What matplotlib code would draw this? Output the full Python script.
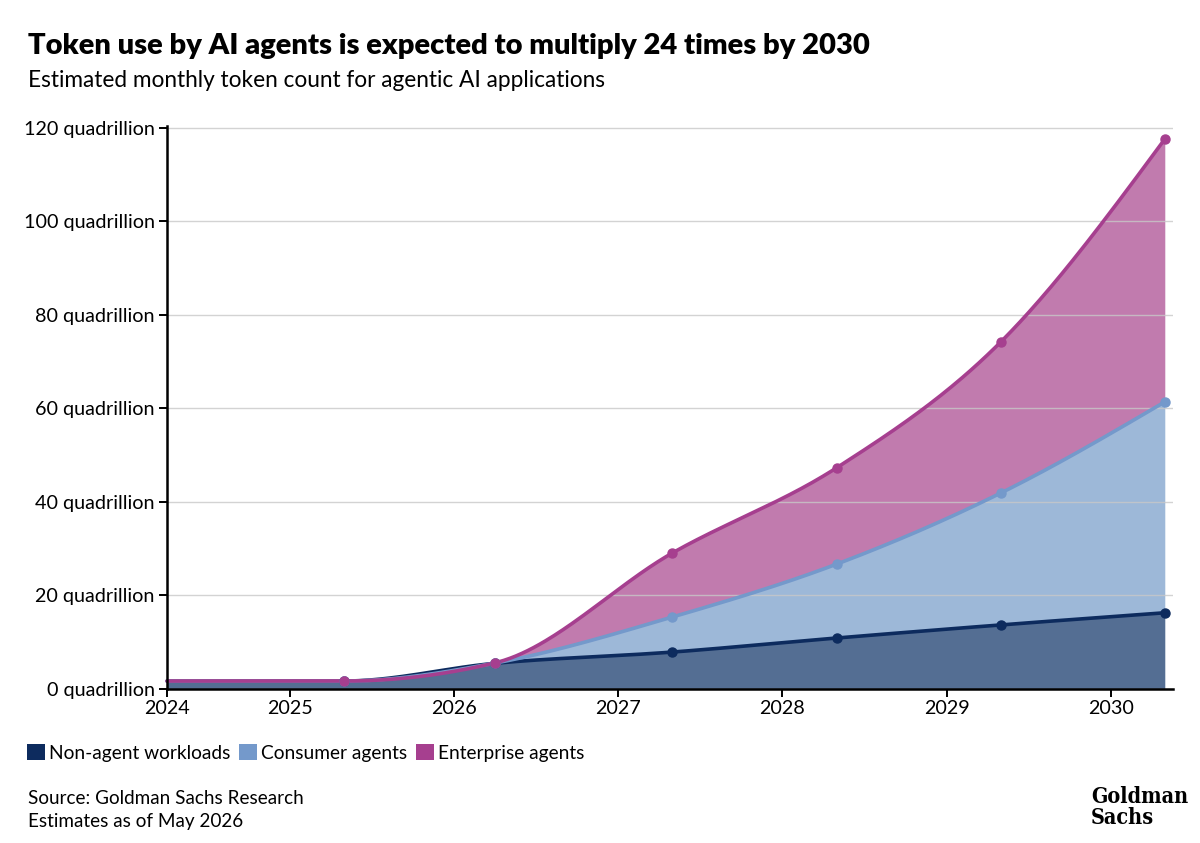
import numpy as np
import matplotlib
import matplotlib.pyplot as plt
from matplotlib.patches import Patch

matplotlib.use('Agg')

# --- Data (quadrillion tokens per month) ---
years = [2024.25, 2025.33, 2026.25, 2027.33, 2028.33, 2029.33, 2030.33]
non_agent = [1.7, 1.7, 5.5, 7.9, 10.9, 13.7, 16.3]
consumer = [0.0, 0.0, 0.05, 7.5, 15.8, 28.2, 45.1]
enterprise = [0.0, 0.0, 0.05, 13.7, 20.6, 32.3, 56.2]

tick_years = [2024.25, 2025, 2026, 2027, 2028, 2029, 2030]
tick_labels = ['2024', '2025', '2026', '2027', '2028', '2029', '2030']
y_ticks = [0, 20, 40, 60, 80, 100, 120]

series_names = ['Non-agent workloads', 'Consumer agents', 'Enterprise agents']
line_colors = ['#0d2b5e', '#7499cb', '#a63f8f']
fill_colors = ['#546e93', '#9db8d8', '#c17bae']


def monotone_x(x, y, n=60):
    """Smooth curve through points, same idea as d3.curveMonotoneX"""
    x = np.asarray(x, float)
    y = np.asarray(y, float)
    h = np.diff(x)
    s = np.diff(y) / h
    t = np.zeros(len(x))
    for i in range(1, len(x) - 1):
        p = (s[i - 1] * h[i] + s[i] * h[i - 1]) / (h[i - 1] + h[i])
        t[i] = (np.sign(s[i - 1]) + np.sign(s[i])) * min(abs(s[i - 1]), abs(s[i]), 0.5 * abs(p))
    t[0] = (3 * s[0] - t[1]) / 2
    t[-1] = (3 * s[-1] - t[-2]) / 2
    xs, ys = [], []
    for i in range(len(h)):
        u = np.linspace(0, 1, n, endpoint=(i == len(h) - 1))
        h00 = 2 * u**3 - 3 * u**2 + 1
        h10 = u**3 - 2 * u**2 + u
        h01 = -2 * u**3 + 3 * u**2
        h11 = u**3 - u**2
        xs.append(x[i] + u * h[i])
        ys.append(h00 * y[i] + h10 * h[i] * t[i] + h01 * y[i + 1] + h11 * h[i] * t[i + 1])
    return np.concatenate(xs), np.concatenate(ys)


plt.rcParams['font.family'] = ['Lato', 'DejaVu Sans']

fig = plt.figure(figsize=(12, 8.43), dpi=100)
ax = fig.add_axes([0.1392, 0.1827, 0.8383, 0.6678])

# stacked totals
cum = np.cumsum(np.array([non_agent, consumer, enterprise]), axis=0)
curves = [monotone_x(years, c) for c in cum]

base = np.zeros_like(curves[0][1])
for (cx, cy), fc in zip(curves, fill_colors):
    ax.fill_between(cx, base, cy, color=fc, lw=0, zorder=2)
    base = cy

for (cx, cy), c, lc in zip(curves, cum, line_colors):
    ax.plot(cx, cy, color=lc, lw=2.6, zorder=4, solid_capstyle='round', clip_on=False)
    ax.plot(years[1:], c[1:], 'o', color=lc, ms=6.5, zorder=5, clip_on=False)

# --- Axes styling ---
ax.set_xlim(2024.25, 2030.38)
ax.set_ylim(0, 120.4)
ax.set_yticks(y_ticks)
ax.set_yticklabels([f'{v} quadrillion' for v in y_ticks])
ax.set_xticks(tick_years)
ax.set_xticklabels(tick_labels)
ax.grid(axis='y', color='#c8c8c8', lw=1, zorder=3, alpha=0.8)
ax.set_axisbelow(False)
for side in ['top', 'right']:
    ax.spines[side].set_visible(False)
for side in ['left', 'bottom']:
    ax.spines[side].set_linewidth(1.8)
    ax.spines[side].set_zorder(6)
ax.tick_params(axis='both', length=6, width=1.4, labelsize=14.2, colors='black', pad=2)
ax.tick_params(axis='y', pad=3)

# --- Header ---
fig.text(0.0233, 0.946, 'Token use by AI agents is expected to multiply 24 times by 2030',
         fontsize=21, fontweight='heavy', va='center', ha='left')
fig.text(0.0233, 0.905, 'Estimated monthly token count for agentic AI applications',
         fontsize=16.3, va='center', ha='left')

# --- Legend ---
handles = [Patch(facecolor=c, edgecolor='none') for c in line_colors]
fig.legend(handles, series_names, loc='center left', bbox_to_anchor=(0.016, 0.107),
           ncol=3, frameon=False, fontsize=13.8, handlelength=0.95, handleheight=0.95,
           handletextpad=0.2, columnspacing=0.45, borderaxespad=0)

# --- Footer ---
fig.text(0.0233, 0.053, 'Source: Goldman Sachs Research', fontsize=13.6, va='center')
fig.text(0.0233, 0.025, 'Estimates as of May 2026', fontsize=13.6, va='center')
fig.text(0.99, 0.042, 'Goldman\nSachs', fontsize=15.5, fontweight='bold',
         family='DejaVu Serif', fontstretch='condensed',
         ha='right', va='center', multialignment='left', linespacing=0.9)

fig.savefig('out.png', dpi=100)
